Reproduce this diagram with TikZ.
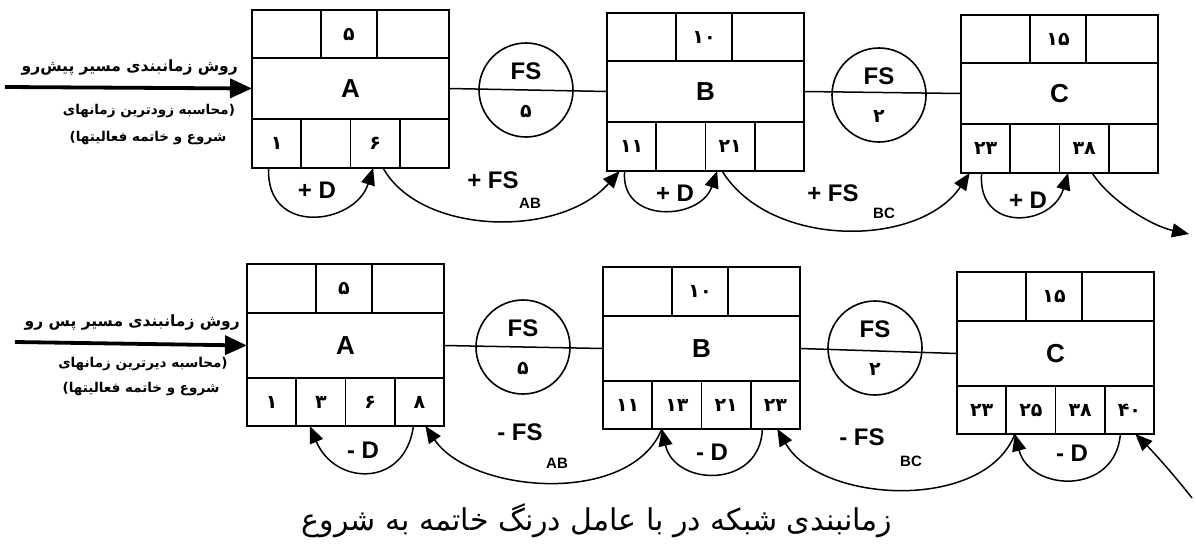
\documentclass[tikz,border=0pt]{standalone}
\usepackage{fontspec}
\setmainfont{Liberation Sans}
\newfontfamily\fa[Script=Arabic]{DejaVu Sans}
\TeXXeTstate=1
\usetikzlibrary{arrows.meta}

\tikzset{
  cell/.style={draw, line width=1.9pt, inner sep=0pt, outer sep=0pt, anchor=north west},
  lbl/.style={font=\bfseries\fontsize{24}{26}\selectfont, inner sep=0pt},
  big/.style={font=\bfseries\fontsize{26}{28}\selectfont},
  sub/.style={font=\bfseries\fontsize{15}{17}\selectfont, inner sep=0pt},
  num/.style={font=\fa\bfseries\fontsize{19}{21}\selectfont},
  fatext/.style={font=\fa\bfseries\fontsize{15.5}{18}\selectfont, inner sep=0pt},
  fatextb/.style={font=\fa\bfseries\fontsize{13.5}{16}\selectfont, inner sep=0pt},
  caption/.style={font=\fa\fontsize{30}{34}\selectfont, inner sep=0pt},
  link/.style={line width=1.5pt},
  arr/.style={line width=1.5pt, -{Triangle[length=17pt,width=14pt]}},
  bigarr/.style={line width=3.8pt, -{Triangle[length=22pt,width=19pt]}},
  fscirc/.style={draw, circle, line width=1.6pt, minimum size=94pt, inner sep=0pt},
}

% #1 name, #2 x, #3 y, #4 label, #5 top number, #6-#9 bottom numbers
\newcommand{\actbox}[9]{%
  \node[cell, minimum width=69pt, minimum height=\hone pt] (#1-t1) at (#2,#3) {};
  \node[cell, minimum width=56pt, minimum height=\hone pt, num] (#1-t2) at ({#2+69},#3) {#5};
  \node[cell, minimum width=72pt, minimum height=\hone pt] (#1-t3) at ({#2+125},#3) {};
  \node[cell, minimum width=197pt, minimum height=\htwo pt, big] (#1-m) at (#2,{#3+\hone}) {#4};
  \node[cell, minimum width=49.25pt, minimum height=\hthree pt, num] (#1-b1) at (#2,{#3+\hone+\htwo}) {#6};
  \node[cell, minimum width=49.25pt, minimum height=\hthree pt, num] (#1-b2) at ({#2+49.25},{#3+\hone+\htwo}) {#7};
  \node[cell, minimum width=49.25pt, minimum height=\hthree pt, num] (#1-b3) at ({#2+98.5},{#3+\hone+\htwo}) {#8};
  \node[cell, minimum width=49.25pt, minimum height=\hthree pt, num] (#1-b4) at ({#2+147.75},{#3+\hone+\htwo}) {#9};
}

\begin{document}
\begin{tikzpicture}[x=1pt, y=-1pt]
\useasboundingbox (0,0) rectangle (1196,554);

% ---------------- top row: forward pass ----------------
\def\hone{48}\def\htwo{61}\def\hthree{49}
\actbox{A}{252}{10}{A}{۵}{۱}{}{۶}{}
\actbox{B}{607}{13}{B}{۱۰}{۱۱}{}{۲۱}{}
\actbox{C}{961}{15}{C}{۱۵}{۲۳}{}{۳۸}{}

\node[fscirc] (fsAB) at (526,90) {};
\node[lbl] (fsABt) at (526,71) {FS};
\node[num, inner sep=0pt] (fsABb) at (526,111) {۵};
\node[fscirc] (fsBC) at (879,95) {};
\node[lbl] (fsBCt) at (879,76) {FS};
\node[num, inner sep=0pt] (fsBCb) at (879,116) {۲};
\draw[link] (A-m.east) -- (B-m.west);
\draw[link] (B-m.east) -- (C-m.west);

\coordinate (inT) at (5,87);
\draw[bigarr] (inT) -- (A-m.west);

\node[fatext, anchor=east] (ft1) at (238,68) {\beginR روش زمانبندی مسیر پیش‌رو\endR};
\node[fatextb] (ft2) at (149,111) {\beginR (محاسبه زودترین زمانهای\endR};
\node[fatextb] (ft3) at (148,138) {\beginR شروع و خاتمه فعالیتها)\endR};

\draw[arr] ([xshift=-8pt]A-b1.south) .. controls +(-3,69) and +(-18,57) .. ([xshift=-2pt]A-b3.south);
\draw[arr] ([xshift=8pt]A-b3.south) .. controls +(37,67) and +(-60,68) .. ([xshift=-12pt]B-b1.south);
\draw[arr] ([xshift=-7pt]B-b1.south) .. controls +(-5,53) and +(-17,50) .. ([xshift=-13pt]B-b3.south);
\draw[arr] ([xshift=-8pt]B-b3.south) .. controls +(48,78) and +(-50,75) .. ([xshift=-16pt]C-b1.south);
\draw[arr] ([xshift=-4pt]C-b1.south) .. controls +(-5,60) and +(-16,54) .. ([xshift=-16pt]C-b3.south);
\coordinate (outT) at (1189,234);
\draw[arr] ([xshift=8pt]C-b3.south) .. controls +(18,28) and +(-37,-8) .. (outT);

\node[lbl] (dA) at (317,190) {+ D};
\node[lbl] (dB) at (675,193) {+ D};
\node[lbl] (dC) at (1028,200) {+ D};
\node[lbl] (fsl1) at (493,180) {+ FS};
\node[sub] (fss1) at (530,203) {AB};
\node[lbl] (fsl2) at (833,193) {+ FS};
\node[sub] (fss2) at (884,213) {BC};

% ---------------- bottom row: backward pass ----------------
\def\hone{49}\def\htwo{65}\def\hthree{48}
\actbox{A2}{247}{264}{A}{۵}{۱}{۳}{۶}{۸}
\actbox{B2}{603}{267}{B}{۱۰}{۱۱}{۱۳}{۲۱}{۲۳}
\actbox{C2}{957}{272}{C}{۱۵}{۲۳}{۲۵}{۳۸}{۴۰}

\node[fscirc] (fsAB2) at (523,347) {};
\node[lbl] (fsAB2t) at (523,328) {FS};
\node[num, inner sep=0pt] (fsAB2b) at (523,368) {۵};
\node[fscirc] (fsBC2) at (875,348) {};
\node[lbl] (fsBC2t) at (875,329) {FS};
\node[num, inner sep=0pt] (fsBC2b) at (875,369) {۲};
\draw[link] (A2-m.east) -- (B2-m.west);
\draw[link] (B2-m.east) -- (C2-m.west);

\coordinate (inB) at (15,342);
\draw[bigarr] (inB) -- (A2-m.west);

\node[fatext, anchor=east] (fb1) at (240,322) {\beginR روش زمانبندی مسیر پس رو\endR};
\node[fatextb] (fb2) at (143,364) {\beginR (محاسبه دیرترین زمانهای\endR};
\node[fatextb] (fb3) at (141,389) {\beginR شروع و خاتمه فعالیتها)\endR};

\draw[arr] ([xshift=-6pt]A2-b4.south) .. controls +(-8,62) and +(25,60) .. ([xshift=-11pt]A2-b2.south);
\draw[arr] ([xshift=-15pt]B2-b2.south) .. controls +(-32,78) and +(45,67) .. ([xshift=6pt]A2-b4.south);
\draw[arr] ([xshift=-13pt]B2-b4.south) .. controls +(-2,60) and +(13,58) .. ([xshift=-15pt]B2-b2.south);
\draw[arr] ([xshift=-16pt]C2-b2.south) .. controls +(-30,78) and +(43,75) .. ([xshift=2pt]B2-b4.south);
\draw[arr] ([xshift=-9pt]C2-b4.south) .. controls +(-5,62) and +(15,58) .. ([xshift=-16pt]C2-b2.south);
\coordinate (inR) at (1192,498);
\draw[arr] (inR) .. controls +(-22,-28) and +(15,15) .. ([xshift=6pt]C2-b4.south);

\node[lbl] (dA2) at (363,450) {- D};
\node[lbl] (dB2) at (712,452) {- D};
\node[lbl] (dC2) at (1072,453) {- D};
\node[lbl] (fsl3) at (520,432) {- FS};
\node[sub] (fss3) at (557,463) {AB};
\node[lbl] (fsl4) at (862,437) {- FS};
\node[sub] (fss4) at (911,461) {BC};

% ---------------- caption ----------------
\node[caption] (cap) at (597,521) {\beginR زمانبندی شبکه در با عامل درنگ خاتمه به شروع\endR};
\end{tikzpicture}
\end{document}
